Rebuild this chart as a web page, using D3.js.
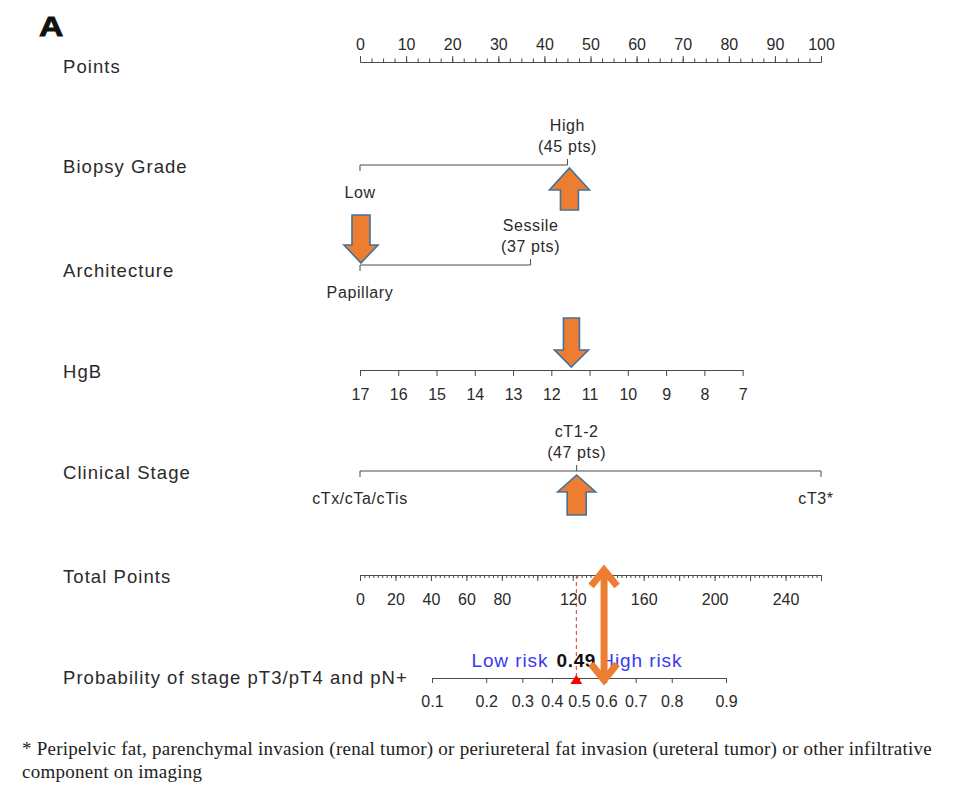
<!DOCTYPE html>
<html>
<head>
<meta charset="utf-8">
<script src="https://cdn.jsdelivr.net/npm/d3@7"></script>
<style>
  html, body { margin: 0; padding: 0; background: #fff; }
  svg { display: block; }
</style>
</head>
<body>
<svg id="chart" width="962" height="796"></svg>
<script>
// ---------------- data ----------------
const rowLabels = ["Points", "Biopsy Grade", "Architecture", "HgB", "Clinical Stage", "Total Points", "Probability of stage pT3/pT4 and pN+"];
const pointsTicks = [0, 10, 20, 30, 40, 50, 60, 70, 80, 90, 100];
const biopsyLevels = ["Low", "High"];
const biopsyPoints = [0, 45];
const archLevels = ["Papillary", "Sessile"];
const archPoints = [0, 37];
const hgbTicks = [17, 16, 15, 14, 13, 12, 11, 10, 9, 8, 7];
const hgbPointsAtMin = 83;            // points assigned to HgB = 7
const stageLevels = ["cTx/cTa/cTis", "cT1-2", "cT3*"];
const stagePoints = [0, 47, 100];
const totalTicks = [0, 20, 40, 60, 80, 120, 160, 200, 240];
const totalMax = 260;
const probTicks = [0.1, 0.2, 0.3, 0.4, 0.5, 0.6, 0.7, 0.8, 0.9];
const probTickLabels = ["0.1", "0.2", "0.3", "0.4", "0.5", "0.6", "0.7", "0.8", "0.9"];
const lpIntercept = -3.273;           // linear predictor = a + b * total points
const lpSlope = 0.0265;
const threshold = 0.49;
const patientBiopsy = 45, patientArch = 0, patientHgb = 11.5, patientStage = 47;
const footnote = [
  "* Peripelvic fat, parenchymal invasion (renal tumor) or periureteral fat invasion (ureteral tumor) or other infiltrative",
  "component on imaging"
];

// ---------------- layout ----------------
const svg = d3.select("#chart");
const X0 = 360, X1 = 821;
const rowY = [62, 165, 265, 370, 471, 575, 678];
const labelX = 63;
const textColor = "#2a2a2a";
const lineColor = "#4a4a4a";
const orange = "#ED7D31";
const arrowEdge = "#41719C";
const sans = "'Liberation Sans', Arial, sans-serif";

const xPts = d3.scaleLinear().domain([0, 100]).range([X0, X1]);
const xHgb = d3.scaleLinear().domain([17, 7]).range([xPts(0), xPts(hgbPointsAtMin)]);
const xTot = d3.scaleLinear().domain([0, totalMax]).range([X0, X1]);
const logit = p => Math.log(p / (1 - p));
const probToTotal = p => (logit(p) - lpIntercept) / lpSlope;
const xLp = d3.scaleLinear()
  .domain([logit(probTicks[0]), logit(probTicks[probTicks.length - 1])])
  .range([xTot(probToTotal(probTicks[0])), xTot(probToTotal(probTicks[probTicks.length - 1]))]);

// panel letter
svg.append("text").attr("transform", "translate(39,36) scale(1.25,1)")
  .attr("font-family", sans).attr("font-weight", 900).attr("font-size", 27)
  .attr("fill", "#111").attr("stroke", "#111").attr("stroke-width", 0.8).text("A");

// row labels
svg.selectAll("text.rowlab").data(rowLabels).enter().append("text")
  .attr("class", "rowlab")
  .attr("x", labelX)
  .attr("y", (d, i) => rowY[i] + [4, 1, 5, 1, 1, 1, -1][i] + 6.5)
  .attr("font-family", sans).attr("font-size", 18.5).attr("letter-spacing", 1.05)
  .attr("fill", textColor).text(d => d);

function styleAxis(g, fontSize) {
  g.select(".domain").attr("stroke", lineColor).attr("stroke-width", 1);
  g.selectAll(".tick line").attr("stroke", lineColor).attr("stroke-width", 1);
  g.selectAll(".tick text").attr("fill", textColor).attr("font-family", sans).attr("font-size", fontSize);
}

// Points axis (ticks up)
const gPts = svg.append("g").attr("transform", `translate(0,${rowY[0]})`);
gPts.append("g").call(d3.axisTop(xPts).tickValues(d3.range(0, 100.01, 2.5)).tickSize(3.5).tickFormat("").tickSizeOuter(0))
  .call(g => styleAxis(g, 16));
gPts.append("g").call(d3.axisTop(xPts).tickValues(pointsTicks).tickSize(6).tickPadding(6).tickSizeOuter(0).tickFormat(d3.format("d")))
  .call(g => styleAxis(g, 16));

// categorical rows
function catRow(levels, pts, y) {
  const g = svg.append("g");
  g.append("line").attr("x1", xPts(d3.min(pts))).attr("x2", xPts(d3.max(pts)))
    .attr("y1", y).attr("y2", y).attr("stroke", lineColor).attr("stroke-width", 1);
  levels.forEach((lev, i) => {
    const above = pts[i] > 0 && pts[i] < 100;
    const x = xPts(pts[i]);
    g.append("line").attr("x1", x).attr("x2", x).attr("y1", y).attr("y2", above ? y - 6 : y + 6)
      .attr("stroke", lineColor).attr("stroke-width", 1);
    const t = g.append("text").attr("text-anchor", "middle")
      .attr("font-family", sans).attr("font-size", 16).attr("letter-spacing", 0.6).attr("fill", textColor);
    if (above) {
      t.append("tspan").attr("x", x).attr("y", y - 40 + 5.5).text(lev);
      t.append("tspan").attr("x", x).attr("y", y - 19 + 5.5).text(`(${pts[i]} pts)`);
    } else {
      const isEnd = pts[i] === 100;
      t.attr("x", isEnd ? x - 5 : x).attr("y", y + 27 + 5.5).text(lev);
    }
  });
}
catRow(biopsyLevels, biopsyPoints, rowY[1]);
catRow(archLevels, archPoints, rowY[2]);

// HgB axis (ticks down)
svg.append("g").attr("transform", `translate(0,${rowY[3]})`)
  .call(d3.axisBottom(xHgb).tickValues(hgbTicks).tickSize(6).tickPadding(13).tickSizeOuter(0).tickFormat(d3.format("d")))
  .call(g => styleAxis(g, 16));

catRow(stageLevels, stagePoints, rowY[4]);

// Total points axis (ticks down)
const gTot = svg.append("g").attr("transform", `translate(0,${rowY[5]})`);
gTot.append("g").call(d3.axisBottom(xTot).tickValues(d3.range(0, totalMax + 0.01, 2.5)).tickSize(3).tickFormat("").tickSizeOuter(0))
  .call(g => styleAxis(g, 16));
gTot.append("g").call(d3.axisBottom(xTot).tickValues(d3.range(0, totalMax + 0.01, 20)).tickSize(6).tickFormat("").tickSizeOuter(0))
  .call(g => styleAxis(g, 16));
gTot.append("g").call(d3.axisBottom(xTot).tickValues(totalTicks).tickSize(0).tickPadding(19).tickSizeOuter(0).tickFormat(d3.format("d")))
  .call(g => { styleAxis(g, 16); g.select(".domain").remove(); });

// Probability axis (logit scale, ticks down)
svg.append("g").attr("transform", `translate(0,${rowY[6]})`)
  .call(d3.axisBottom(xLp).tickValues(probTicks.map(logit)).tickSize(5).tickPadding(13).tickSizeOuter(0)
    .tickFormat((d, i) => probTickLabels[i]))
  .call(g => styleAxis(g, 16));

// threshold marker
const xThr = xLp(logit(threshold));
svg.append("line").attr("x1", xThr).attr("x2", xThr).attr("y1", rowY[5]).attr("y2", rowY[6])
  .attr("stroke", "#e03030").attr("stroke-width", 1).attr("stroke-dasharray", "4,3");
svg.append("path")
  .attr("d", `M${xThr},${rowY[6] - 3} L${xThr + 6},${rowY[6] + 6} L${xThr - 6},${rowY[6] + 6} Z`)
  .attr("fill", "#ff0000");

const riskY = 667;
svg.append("text").attr("x", xThr - 28).attr("y", riskY).attr("text-anchor", "end")
  .attr("font-family", sans).attr("font-size", 19).attr("letter-spacing", 0.9).attr("fill", "#3a3af0").text("Low risk");
svg.append("text").attr("x", xThr).attr("y", riskY).attr("text-anchor", "middle")
  .attr("font-family", sans).attr("font-size", 19).attr("font-weight", "bold").attr("letter-spacing", 0.6)
  .attr("fill", "#111").text(d3.format(".2f")(threshold));
svg.append("text").attr("x", xThr + 24).attr("y", riskY).attr("text-anchor", "start")
  .attr("font-family", sans).attr("font-size", 19).attr("letter-spacing", 0.9).attr("fill", "#3a3af0").text("High risk");

// block arrows
function blockArrow(x, tipY, dir, L, H, hh, sh) {
  // dir = -1 points up (tip at top), +1 points down (tip at bottom)
  const s = -dir;
  const pts = [
    [x, tipY], [x + hh, tipY + s * H], [x + sh, tipY + s * H], [x + sh, tipY + s * L],
    [x - sh, tipY + s * L], [x - sh, tipY + s * H], [x - hh, tipY + s * H]
  ];
  svg.append("path").attr("d", "M" + pts.map(p => p.join(",")).join("L") + "Z")
    .attr("fill", orange).attr("stroke", arrowEdge).attr("stroke-width", 1.6).attr("stroke-linejoin", "miter");
}
blockArrow(xPts(patientBiopsy) + 2, rowY[1] + 3, -1, 42, 22, 20, 9);
blockArrow(xPts(patientArch) + 1, rowY[2] - 2, 1, 48, 18, 17, 9);
blockArrow(xHgb(patientHgb) + 1, rowY[3] - 3, 1, 49, 17, 17, 8);
blockArrow(xPts(patientStage), rowY[4] + 4, -1, 40, 17, 19, 9.5);

// total points double arrow
const patientTotal = patientBiopsy + patientArch + (17 - patientHgb) / 10 * hgbPointsAtMin + patientStage;
const xT = xTot(patientTotal);
const yTop = rowY[5] - 8, yBot = rowY[6] + 5;
const da = svg.append("g").attr("stroke", orange).attr("stroke-width", 7).attr("fill", "none")
  .attr("stroke-linecap", "butt").attr("stroke-linejoin", "miter");
da.append("line").attr("x1", xT).attr("x2", xT).attr("y1", yTop + 3).attr("y2", yBot - 3);
da.append("path").attr("d", `M${xT - 13},${yTop + 19} L${xT},${yTop + 3} L${xT + 13},${yTop + 19}`);
da.append("path").attr("d", `M${xT - 13},${yBot - 19} L${xT},${yBot - 3} L${xT + 13},${yBot - 19}`);

// footnote
svg.selectAll("text.foot").data(footnote).enter().append("text")
  .attr("class", "foot").attr("x", 22).attr("y", (d, i) => 755 + i * 23)
  .attr("font-family", "'Liberation Serif', 'Times New Roman', serif").attr("font-size", 19)
  .attr("letter-spacing", 0.25)
  .attr("fill", "#222").text(d => d);
</script>
</body>
</html>
